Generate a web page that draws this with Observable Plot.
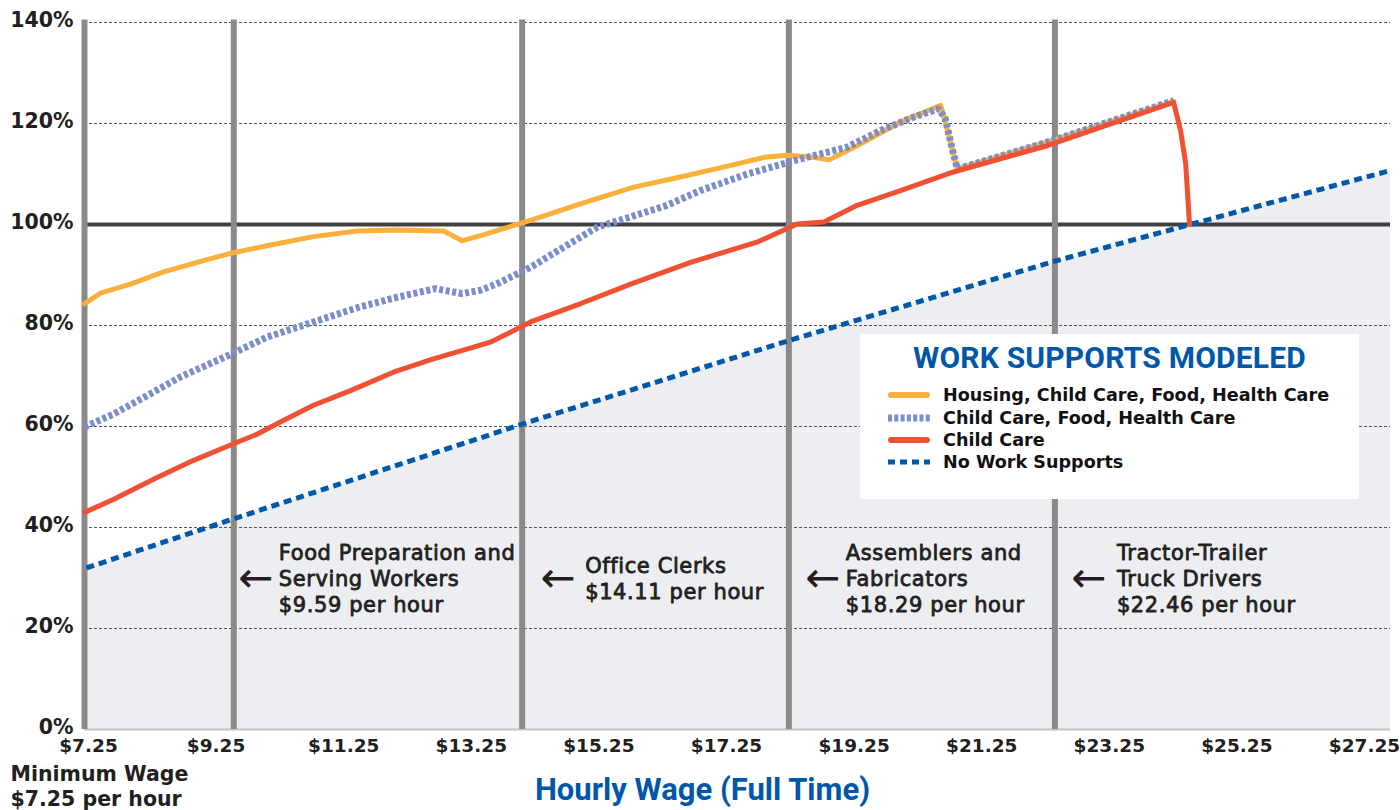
<!DOCTYPE html>
<html>
<head>
<meta charset="utf-8">
<script src="https://cdn.jsdelivr.net/npm/d3@7"></script>
<script src="https://cdn.jsdelivr.net/npm/@observablehq/plot@0.6"></script>
<style>
  html, body { margin: 0; padding: 0; background: #fff; }
  #wrap { position: relative; width: 1400px; height: 810px; overflow: hidden; }
  #legend { position: absolute; left: 860px; top: 334px; width: 499px; height: 165px; background: #fff; }
  #legend .ttl { position: absolute; left: 0; width: 499px; top: 6px; text-align: center;
    font: 700 30px Roboto, sans-serif; color: #0057a8; letter-spacing: 0.2px; }
  #legend .row { position: absolute; left: 28px; height: 22px; display: flex; align-items: center; }
  #legend .row span { font: 700 17.6px "DejaVu Sans", sans-serif; color: #111; margin-left: 13px; white-space: nowrap; }
</style>
</head>
<body>
<div id="wrap"></div>
<script>
// ---- data ----
const yTicks = [0, 20, 40, 60, 80, 100, 120, 140];
const xTicks = [7.25, 9.25, 11.25, 13.25, 15.25, 17.25, 19.25, 21.25, 23.25, 25.25, 27.25];
const minWage = 7.25;

const housingWage = [7.25, 7.50, 7.97, 8.49, 9.07, 9.51, 10.11, 10.84, 11.52, 12.15, 12.88, 13.17, 13.46, 13.74, 14.24, 15.02, 15.86, 16.59, 17.38, 17.90, 18.26, 18.68, 18.92, 19.36, 20.04, 20.67, 20.75, 20.93, 22.34, 24.32];
const housingPct  = [84.3, 86.4, 88.2, 90.6, 92.7, 94.2, 95.8, 97.6, 98.7, 98.9, 98.7, 96.8, 97.8, 98.9, 100.8, 104.1, 107.4, 109.4, 111.7, 113.3, 113.7, 113.3, 112.8, 115.6, 120.3, 123.6, 120.0, 111.0, 116.3, 124.4];

const childFoodWage = [7.25, 7.71, 8.23, 8.75, 9.51, 10.11, 10.84, 11.52, 12.15, 12.75, 13.17, 13.46, 13.74, 14.24, 14.76, 15.29, 15.81, 16.38, 16.90, 17.64, 18.39, 19.20, 19.73, 20.25, 20.64, 20.74, 20.85, 20.93, 22.34, 24.32];
const childFoodPct  = [59.9, 62.5, 66.1, 69.8, 74.1, 77.7, 80.7, 83.5, 85.6, 87.3, 86.3, 87.0, 88.4, 91.5, 95.5, 99.5, 101.5, 103.8, 106.7, 110.0, 112.7, 115.3, 118.6, 121.3, 122.9, 121.0, 115.0, 111.0, 116.3, 124.5];

const childCareWage = [7.25, 7.71, 8.34, 8.96, 9.51, 9.96, 10.32, 10.84, 11.42, 12.10, 12.72, 13.35, 13.61, 13.98, 14.24, 15.02, 15.81, 16.75, 17.79, 18.42, 18.84, 19.36, 20.04, 20.87, 22.34, 24.32, 24.43, 24.51, 24.57];
const childCarePct  = [43.0, 45.6, 49.6, 53.3, 56.2, 58.5, 60.9, 64.2, 67.1, 70.8, 73.4, 75.7, 76.7, 79.0, 80.7, 84.3, 88.2, 92.5, 96.5, 100.1, 100.5, 103.8, 106.7, 110.4, 115.6, 124.2, 118.6, 112.0, 100.0];

const noSupportWage = [7.28, 9.51, 14.24, 18.39, 22.39, 24.58, 27.72];
const noSupportPct  = [32.0, 41.4, 61.0, 77.4, 92.5, 100.0, 110.7];

const occWage  = [9.59, 14.11, 18.29, 22.46];
const occLabel = [
  "Food Preparation and\nServing Workers\n$9.59 per hour",
  "Office Clerks\n$14.11 per hour",
  "Assemblers and\nFabricators\n$18.29 per hour",
  "Tractor-Trailer\nTruck Drivers\n$22.46 per hour"
];
const annoY = 30.1;

const seriesNames  = ["Housing, Child Care, Food, Health Care", "Child Care, Food, Health Care", "Child Care", "No Work Supports"];

// ---- build tables ----
const zip = (xs, ys) => xs.map((x, i) => ({wage: x, pct: ys[i]}));
const housing = zip(housingWage, housingPct);
const childFood = zip(childFoodWage, childFoodPct);
const childCare = zip(childCareWage, childCarePct);
const noSupport = zip(noSupportWage, noSupportPct);
const occ = occWage.map((w, i) => ({wage: w, label: occLabel[i]}));

const ORANGE = "#fbb03b", DOTTED = "#7b8dcb", RED = "#f05133", NAVY = "#0058a6", BAR = "#8d8989";
const INK = "#231f20";

// per-label label / arrow offsets (pixels, style only)
const textDx  = [45, 63, 57, 62];
const arrowDx = [22, 36, 34, 34];

const annoMarks = occ.flatMap((o, i) => [
  Plot.text([o], {x: "wage", y: annoY, text: () => "\u2190", dx: arrowDx[i], dy: 1, fontSize: 42, fontFamily: "DejaVu Sans",
    fill: INK, textAnchor: "middle", lineAnchor: "middle"}),
  Plot.text([o], {x: "wage", y: annoY, text: "label", dx: textDx[i], textAnchor: "start", lineAnchor: "middle",
    fontSize: 21, lineHeight: 1.24, fontFamily: "DejaVu Sans", fill: INK, stroke: INK, strokeWidth: 0.8})
]);

const chart = Plot.plot({
  width: 1400,
  height: 810,
  marginTop: 22,
  marginBottom: 81,
  marginLeft: 84,
  marginRight: 10,
  style: {color: INK, background: "transparent", overflow: "visible"},
  x: {domain: [7.25, 27.72], axis: null},
  y: {domain: [0, 140], axis: null},
  marks: [
    Plot.areaY(noSupport, {x: "wage", y: "pct", fill: "#eceef1"}),
    Plot.ruleY([20, 40, 60, 80, 120, 140], {stroke: "#555", strokeWidth: 1, strokeDasharray: "3,2"}),
    Plot.ruleY([0], {stroke: "#bfc4ca", strokeWidth: 2}),
    Plot.ruleY([100], {stroke: "#404040", strokeWidth: 4}),
    Plot.ruleX([minWage, ...occWage], {x: d => d, y1: 140.5, y2: 0, stroke: BAR, strokeWidth: 6}),
    ...annoMarks,
    Plot.line(noSupport, {x: "wage", y: "pct", stroke: NAVY, strokeWidth: 5, strokeDasharray: "8,5", strokeLinecap: "butt"}),
    Plot.line(housing, {x: "wage", y: "pct", stroke: ORANGE, strokeWidth: 5, strokeLinejoin: "round"}),
    Plot.line(childFood, {x: "wage", y: "pct", stroke: DOTTED, strokeWidth: 7, strokeDasharray: "4,2.6", strokeLinecap: "butt", strokeLinejoin: "miter"}),
    Plot.line(childCare, {x: "wage", y: "pct", stroke: RED, strokeWidth: 5, strokeLinejoin: "round"}),
    Plot.axisY({ticks: yTicks, tickFormat: d => d + "%", tickSize: 0, tickPadding: 11, dy: -2,
      fontSize: 20.5, fontWeight: "bold", fontFamily: "DejaVu Sans", label: null}),
    Plot.axisX({ticks: xTicks, tickFormat: d => "$" + d.toFixed(2), tickSize: 0, tickPadding: 9, dx: 4,
      fontSize: 18.5, fontWeight: "bold", fontFamily: "DejaVu Sans", label: null}),
    Plot.text(["Hourly Wage (Full Time)"], {frameAnchor: "bottom", dx: -35, dy: 61, lineAnchor: "middle",
      fontSize: 31, fontWeight: "bold", fontFamily: "Roboto", fill: "#0057a8"}),
    Plot.text(["Minimum Wage\n$7.25 per hour"], {frameAnchor: "bottom-left", dx: -74, dy: 56, textAnchor: "start", lineAnchor: "middle",
      fontSize: 20.5, lineHeight: 1.2, fontWeight: "bold", fontFamily: "DejaVu Sans", fill: INK})
  ]
});

// slight letter spacing on the occupation labels
d3.select(chart).selectAll("text")
  .filter(function () { return occLabel.some(l => this.textContent === l.replace(/\n/g, "")); })
  .attr("letter-spacing", "0.6px");

const wrap = document.getElementById("wrap");
wrap.appendChild(chart);

// legend (HTML overlay)
const legend = document.createElement("div");
legend.id = "legend";
legend.innerHTML = `<div class="ttl">WORK SUPPORTS MODELED</div>`;
const swatch = [
  `<line x1="3" y1="8" x2="39" y2="8" stroke="${ORANGE}" stroke-width="6" stroke-linecap="round"/>`,
  `<line x1="0" y1="8" x2="42" y2="8" stroke="${DOTTED}" stroke-width="7" stroke-dasharray="4,2.3"/>`,
  `<line x1="3" y1="8" x2="39" y2="8" stroke="${RED}" stroke-width="6" stroke-linecap="round"/>`,
  `<line x1="0" y1="8" x2="42" y2="8" stroke="${NAVY}" stroke-width="5" stroke-dasharray="7,5"/>`
];
const rowTops = [50, 73, 95, 117];
seriesNames.forEach((name, i) => {
  const r = document.createElement("div");
  r.className = "row";
  r.style.top = rowTops[i] + "px";
  r.innerHTML = `<svg width="42" height="16">${swatch[i]}</svg><span>${name}</span>`;
  legend.appendChild(r);
});
wrap.appendChild(legend);
</script>
</body>
</html>
